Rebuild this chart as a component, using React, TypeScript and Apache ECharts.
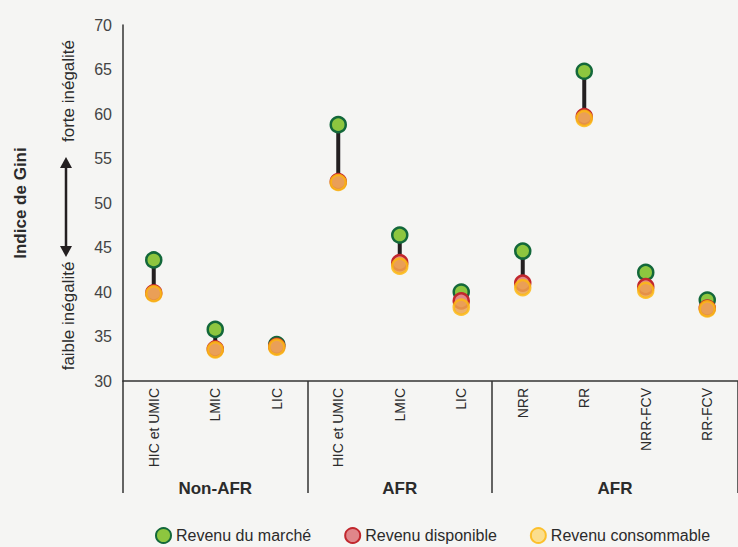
import React, { useEffect, useRef } from "react";
import * as echarts from "echarts";

const categories = ["HIC et UMIC", "LMIC", "LIC", "HIC et UMIC", "LMIC", "LIC", "NRR", "RR", "NRR-FCV", "RR-FCV"];
const marketIncome = [43.6, 35.8, 34.1, 58.8, 46.4, 40.0, 44.6, 64.8, 42.2, 39.1];
const disposableIncome = [39.9, 33.6, 33.9, 52.4, 43.3, 39.0, 41.0, 59.7, 40.6, 38.2];
const consumableIncome = [39.8, 33.5, 33.8, 52.3, 42.9, 38.3, 40.5, 59.5, 40.2, 38.1];
const groupNames = ["Non-AFR", "AFR", "AFR"];
const groupStart = [0, 3, 6];
const groupEnd = [2, 5, 9];
const yTicks = { min: 30, max: 70, interval: 5 };

const FONT = "'Liberation Sans', Arial, sans-serif";
const TXT = "#2b2b2b";

export default function App() {
  const ref = useRef<HTMLDivElement>(null);
  useEffect(() => {
    if (!ref.current) return;
    const chart = echarts.init(ref.current, null, { renderer: "svg" });
    const sMarket = "Revenu du marché";
    const sDisp = "Revenu disponible";
    const sCons = "Revenu consommable";
    chart.setOption({
      animation: false,
      backgroundColor: "#f5f5f3",
      textStyle: { fontFamily: FONT },
      grid: { left: 123, top: 25, width: 624, height: 356 },
      legend: {
        left: 155,
        top: 527,
        padding: 0,
        itemWidth: 15,
        itemHeight: 15,
        itemGap: 33,
        icon: "circle",
        textStyle: { fontSize: 16, color: TXT, fontFamily: FONT },
        data: [
          { name: sMarket, itemStyle: { color: "#8dc63f", borderColor: "#13683a", borderWidth: 2 } },
          { name: sDisp, itemStyle: { color: "#e0868a", borderColor: "#c1272d", borderWidth: 2 } },
          { name: sCons, itemStyle: { color: "#fcd97a", borderColor: "#fdb913", borderWidth: 2 } },
        ],
      },
      xAxis: {
        type: "category",
        data: categories,
        boundaryGap: true,
        axisLine: { lineStyle: { color: "#333", width: 1.5 } },
        axisTick: {
          show: true,
          alignWithLabel: false,
          length: 112,
          interval: (i: number) => i === 0 || i === 3 || i === 6,
          lineStyle: { color: "#333", width: 1.5 },
        },
        axisLabel: { rotate: 90, fontSize: 14, color: TXT, margin: 7, interval: 0, fontFamily: FONT },
        splitLine: { show: false },
      },
      yAxis: {
        type: "value",
        min: yTicks.min,
        max: yTicks.max,
        interval: yTicks.interval,
        name: "Indice de Gini",
        nameLocation: "middle",
        nameGap: 94,
        nameTextStyle: { fontSize: 17, fontWeight: "bold", color: TXT, fontFamily: FONT },
        axisLine: { show: true, lineStyle: { color: "#333", width: 1.5 } },
        axisTick: { show: false },
        axisLabel: { fontSize: 16, color: "#444", margin: 11, fontFamily: FONT },
        splitLine: { show: false },
      },
      graphic: [
        { type: "text", x: 68, y: 91, rotation: Math.PI / 2, style: { text: "forte inégalité", font: `17px ${FONT}`, fill: TXT, align: "center", verticalAlign: "middle" } },
        { type: "text", x: 68, y: 316, rotation: Math.PI / 2, style: { text: "faible inégalité", font: `17px ${FONT}`, fill: TXT, align: "center", verticalAlign: "middle" } },
        { type: "line", shape: { x1: 66, y1: 166, x2: 66, y2: 248 }, style: { stroke: "#231f20", lineWidth: 2.5 } },
        { type: "polygon", shape: { points: [[66, 157], [60, 168], [72, 168]] }, style: { fill: "#231f20" } },
        { type: "polygon", shape: { points: [[66, 257], [60, 246], [72, 246]] }, style: { fill: "#231f20" } },
      ],
      series: [
        {
          type: "custom",
          name: "range",
          silent: true,
          data: categories.map((_, i) => [i, marketIncome[i], consumableIncome[i]]),
          encode: { x: 0, y: [1, 2] },
          renderItem: (_p: any, api: any) => {
            const a = api.coord([api.value(0), api.value(1)]);
            const b = api.coord([api.value(0), api.value(2)]);
            return { type: "line", shape: { x1: a[0], y1: a[1], x2: b[0], y2: b[1] }, style: { stroke: "#231f20", lineWidth: 4 } };
          },
          z: 1,
        },
        {
          type: "custom",
          name: "groups",
          silent: true,
          clip: false,
          data: groupNames.map((_, i) => [groupStart[i], yTicks.min, groupEnd[i]]),
          encode: { x: 0, y: 1 },
          renderItem: (p: any, api: any) => {
            const a = api.coord([api.value(0), api.value(1)]);
            const b = api.coord([api.value(2), api.value(1)]);
            return {
              type: "text",
              x: (a[0] + b[0]) / 2,
              y: a[1] + 107,
              style: { text: groupNames[p.dataIndex], font: `bold 17px ${FONT}`, fill: TXT, align: "center", verticalAlign: "middle" },
            };
          },
        },
        {
          type: "scatter",
          name: sMarket,
          data: marketIncome,
          symbol: "circle",
          symbolSize: 15,
          itemStyle: { color: "#8dc63f", borderColor: "#13683a", borderWidth: 2.5, opacity: 1 },
          z: 2,
        },
        {
          type: "scatter",
          name: sDisp,
          data: disposableIncome,
          symbol: "circle",
          symbolSize: 15,
          itemStyle: { color: "#e0868a", borderColor: "#c1272d", borderWidth: 2.5, opacity: 1 },
          z: 3,
        },
        {
          type: "scatter",
          name: sCons,
          data: consumableIncome,
          symbol: "circle",
          symbolSize: 15,
          itemStyle: { color: "#eba34e", borderColor: "#fdb913", borderWidth: 2.5, opacity: 0.85 },
          z: 4,
        },
      ],
    });
    return () => chart.dispose();
  }, []);
  return <div ref={ref} style={{ position: "fixed", left: 0, top: 0, width: 738, height: 547 }} />;
}
